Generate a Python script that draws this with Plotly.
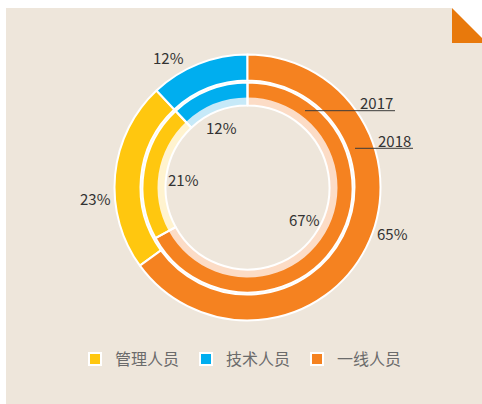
import math
import plotly.graph_objects as go

# ---- data -------------------------------------------------------------
categories = ["管理人员", "技术人员", "一线人员"]
share_2018 = [23, 12, 65]
share_2017 = [21, 12, 67]

colors = ["#ffc70f", "#00aeef", "#f58220"]
light_colors = ["#fff3cf", "#c6e9f8", "#fcdcc6"]

W, H = 482, 404
CX, CY = 247.5, 187.5          # ring centre (px, from top-left)
FONT = "Noto Sans CJK SC"
TEXT_DARK = "#333333"


def domain_for(radius):
    """Paper-space domain that gives a pie of the given pixel radius."""
    cy_up = H - CY
    return dict(x=[(CX - radius) / W, (CX + radius) / W],
                y=[(cy_up - radius) / H, (cy_up + radius) / H])


def px_to_paper(x, y):
    return x / W, 1 - y / H


def start_angle(values):
    """Clockwise start angle of the first slice so that the last slice
    (一线人员) begins at 12 o'clock."""
    return values[-1] / sum(values) * 360.0


def mid_angles(values, start):
    total = sum(values)
    out, acc = [], 0.0
    for v in values:
        out.append(start + (acc + v / 2) / total * 360.0)
        acc += v
    return out


start_2018 = start_angle(share_2018)
start_2017 = start_angle(share_2017)

fig = go.Figure()

common = dict(sort=False, direction="clockwise",
              textinfo="none", hoverinfo="label+value")

# outer ring: 2018
fig.add_trace(go.Pie(
    labels=categories, values=share_2018, name="2018", rotation=start_2018,
    domain=domain_for(133), hole=107 / 133,
    marker=dict(colors=colors, line=dict(color="white", width=2)),
    showlegend=True, **common))

# inner ring: 2017 (pale inner band + solid outer band + separators)
fig.add_trace(go.Pie(
    labels=categories, values=share_2017, name="2017", rotation=start_2017,
    domain=domain_for(105), hole=82 / 105,
    marker=dict(colors=light_colors, line=dict(color="white", width=0)),
    showlegend=False, **common))
fig.add_trace(go.Pie(
    labels=categories, values=share_2017, name="2017", rotation=start_2017,
    domain=domain_for(105), hole=90 / 105,
    marker=dict(colors=colors, line=dict(color="white", width=0)),
    showlegend=False, **common))
fig.add_trace(go.Pie(
    labels=categories, values=share_2017, name="2017", rotation=start_2017,
    domain=domain_for(105), hole=82 / 105,
    marker=dict(colors=["rgba(0,0,0,0)"] * 3,
                line=dict(color="white", width=2)),
    showlegend=False, **common))

annotations = []
label_font = dict(family=FONT, size=15, color=TEXT_DARK)

# percentage labels for the outer ring (outside the ring)
for v, a in zip(share_2018, mid_angles(share_2018, start_2018)):
    t = math.radians(a - 9.5)
    px, py = px_to_paper(CX + 152 * math.sin(t), CY - 152 * math.cos(t))
    annotations.append(dict(x=px, y=py, xref="paper", yref="paper",
                            xanchor="center", yanchor="middle",
                            text=f"{v}%", showarrow=False, font=label_font))

# percentage labels for the inner ring (inside the hole)
for v, a in zip(share_2017, mid_angles(share_2017, start_2017)):
    t = math.radians(a - 1.5)
    px, py = px_to_paper(CX + 65 * math.sin(t), CY - 65 * math.cos(t))
    annotations.append(dict(x=px, y=py, xref="paper", yref="paper",
                            xanchor="center", yanchor="middle",
                            text=f"{v}%", showarrow=False, font=label_font))

# year call-outs
for text, x_right, y_text in [("2017", 395, 102.5), ("2018", 413, 140.5)]:
    px, py = px_to_paper(x_right, y_text)
    annotations.append(dict(x=px, y=py, xref="paper", yref="paper",
                            xanchor="right", yanchor="middle",
                            text=text, showarrow=False, font=label_font))

shapes = []
# page background with folded corner
x0, y0 = px_to_paper(6, 8)
x1, y1 = px_to_paper(W, H)
shapes.append(dict(type="rect", xref="paper", yref="paper",
                   x0=x0, y0=y1, x1=x1, y1=y0,
                   fillcolor="#eee6db", line=dict(width=0), layer="below"))
cx0, cy0 = px_to_paper(452, 0)
cx1, cy1 = px_to_paper(W, 43)
shapes.append(dict(type="rect", xref="paper", yref="paper",
                   x0=cx0, y0=cy1, x1=cx1, y1=cy0,
                   fillcolor="white", line=dict(width=0), layer="below"))
pa = px_to_paper(452, 8)
pb = px_to_paper(452, 43)
pc = px_to_paper(487, 43)
shapes.append(dict(type="path", xref="paper", yref="paper",
                   path=f"M{pa[0]},{pa[1]} L{pb[0]},{pb[1]} L{pc[0]},{pc[1]} Z",
                   fillcolor="#e8790c", line=dict(width=0), layer="below"))

# leader lines under the year labels
for xa, xb, yl in [(305, 395, 110.7), (355, 413, 148.3)]:
    la = px_to_paper(xa, yl)
    lb = px_to_paper(xb, yl)
    shapes.append(dict(type="line", xref="paper", yref="paper",
                       x0=la[0], y0=la[1], x1=lb[0], y1=lb[1],
                       line=dict(color="#3a3a3a", width=1)))

fig.update_layout(
    width=W, height=H,
    margin=dict(l=0, r=0, t=0, b=0),
    paper_bgcolor="white",
    plot_bgcolor="rgba(0,0,0,0)",
    font=dict(family=FONT),
    annotations=annotations,
    shapes=shapes,
    legend=dict(orientation="h", x=75 / W, xanchor="left",
                y=1 - 359 / H, yanchor="middle",
                font=dict(family=FONT, size=16, color="#6b6b6b"),
                bgcolor="rgba(0,0,0,0)", traceorder="normal",
                entrywidth=66, entrywidthmode="pixels"),
)

fig.write_html("out.html")
